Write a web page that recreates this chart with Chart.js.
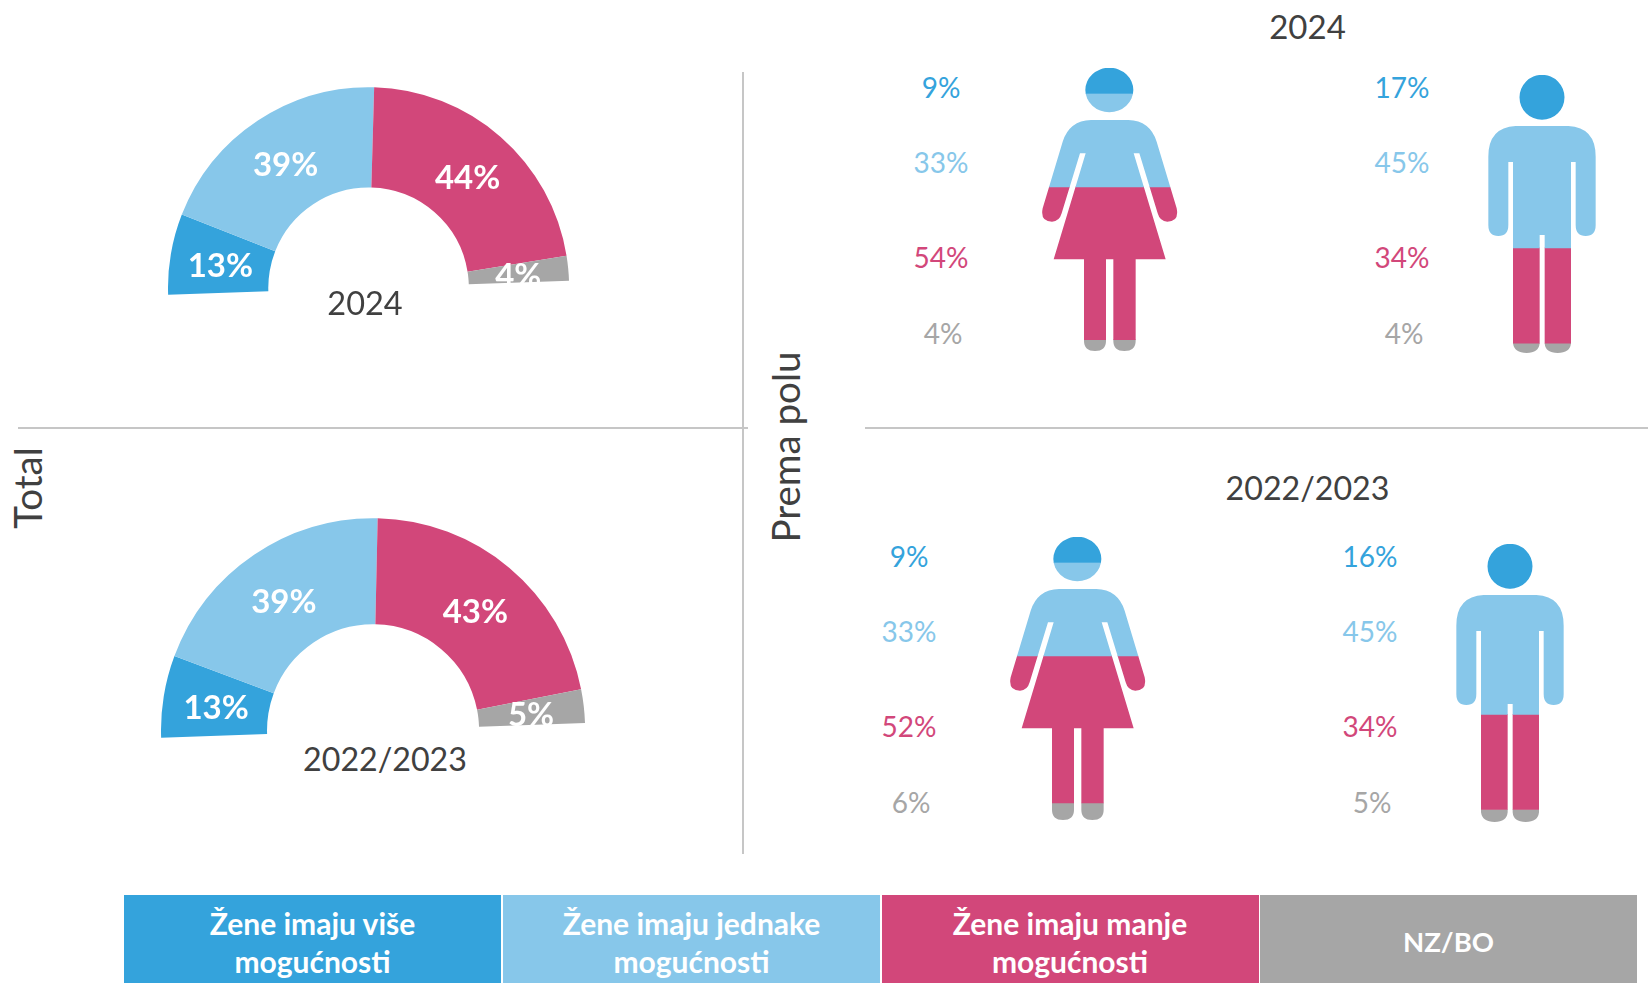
<!DOCTYPE html>
<html>
<head>
<meta charset="utf-8">
<script src="https://cdn.jsdelivr.net/npm/chart.js@4"></script>
<style>
html,body{margin:0;padding:0;width:1648px;height:983px;overflow:hidden;background:#fff;font-family:Lato,sans-serif;color:#404040}
canvas{position:absolute;display:block}
.t{position:absolute;transform:translate(-50%,-50%);white-space:nowrap;line-height:1}
.v{position:absolute;transform:translate(-50%,-50%) rotate(-90deg);white-space:nowrap;line-height:1}
.line{position:absolute;background:#c6c6c6}
.box{position:absolute;top:895px;height:94px;display:flex;align-items:center;justify-content:center;text-align:center;color:#fff;font-weight:700;font-size:30px;line-height:38px}
</style>
</head>
<body>
<script>
const categories = ['Žene imaju više mogućnosti', 'Žene imaju jednake mogućnosti', 'Žene imaju manje mogućnosti', 'NZ/BO'];
const colors = ['#34A3DC', '#87C7EA', '#D2477A', '#A6A6A6'];
const total2024 = [13, 39, 44, 4];
const total2022 = [12.5, 39.3, 43.1, 5.1];
const women2024 = [9, 33, 54, 4];
const men2024 = [17.1, 45.1, 34.3, 3.5];
const women2022 = [9, 33, 52, 6];
const men2022 = [16.1, 45.2, 34.2, 4.5];
const periodLabels = ['2024', '2022/2023'];
const sideTitles = ['Total', 'Prema polu'];

function addText(cls, text, x, y, size, color) {
  const d = document.createElement('div');
  d.className = cls;
  d.textContent = text;
  d.style.left = x + 'px';
  d.style.top = y + 'px';
  d.style.fontSize = size + 'px';
  if (color) d.style.color = color;
  document.body.appendChild(d);
}
function addLine(x, y, w, h) {
  const d = document.createElement('div');
  d.className = 'line';
  d.style.cssText = `left:${x}px;top:${y}px;width:${w}px;height:${h}px`;
  document.body.appendChild(d);
}
function addCanvas(x, y, w, h) {
  const c = document.createElement('canvas');
  c.width = w; c.height = h;
  c.style.cssText = `left:${x}px;top:${y}px;width:${w}px;height:${h}px`;
  document.body.appendChild(c);
  return c;
}

const gaugeLabels = {
  id: 'gaugeLabels',
  afterDatasetsDraw(chart) {
    const ctx = chart.ctx, meta = chart.getDatasetMeta(0);
    ctx.save();
    ctx.fillStyle = '#fff';
    ctx.font = '700 ' + chart.options.plugins.gaugeLabels.size + 'px Lato';
    ctx.textAlign = 'center';
    ctx.textBaseline = 'middle';
    meta.data.forEach((arc, i) => {
      const p = arc.tooltipPosition();
      ctx.fillText(Math.round(chart.data.datasets[0].data[i]) + '%', p.x, p.y + 3.5);
    });
    ctx.restore();
  }
};

function gauge(values, cx, cy, R, size) {
  const w = Math.round(R * 2), h = Math.ceil(w * 0.5175);
  const top = Math.round(cy - h / 2 - 0.4825 * R);
  const c = addCanvas(Math.round(cx - R), top, w, h);
  new Chart(c, {
    type: 'doughnut',
    data: { labels: categories, datasets: [{ data: values, backgroundColor: colors, borderWidth: 0 }] },
    options: {
      responsive: false, animation: false, rotation: -92, circumference: 180, cutout: '50%',
      layout: { padding: 0 },
      plugins: { legend: { display: false }, tooltip: { enabled: false }, gaugeLabels: { size } }
    },
    plugins: [gaugeLabels]
  });
}

function womanPath(x0, y0) {
  const p = new Path2D();
  const X = v => (v - x0) / 3, Y = v => (v - y0) / 3;
  const L = (a, b) => p.lineTo(X(a), Y(b));
  const Q = (a, b, c, d) => p.quadraticCurveTo(X(a), Y(b), X(c), Y(d));
  p.moveTo(X(629), Y(210));
  L(685, 210); Q(750, 212, 770, 275); L(830, 475); Q(838, 515, 802, 515); Q(780, 515, 773, 490);
  L(718, 310); L(701, 310); L(797, 628); L(707, 628); L(707, 873); Q(707, 903, 673, 903); Q(640, 903, 640, 873);
  L(640, 628); L(618, 628); L(618, 873); Q(618, 903, 585, 903); Q(552, 903, 552, 873); L(552, 628);
  L(461, 628); L(557, 310); L(540, 310); L(485, 490); Q(478, 515, 456, 515); Q(420, 515, 428, 475);
  L(488, 275); Q(508, 212, 573, 210);
  p.closePath();
  p.moveTo(X(700), Y(120));
  p.ellipse(X(628), Y(120), 24, 22.3, 0, 0, Math.PI * 2);
  return p;
}
function manPath(x0, y0) {
  const p = new Path2D();
  const X = v => (v - x0) / 3, Y = v => (v - y0) / 3;
  const L = (a, b) => p.lineTo(X(a), Y(b));
  const Q = (a, b, c, d) => p.quadraticCurveTo(X(a), Y(b), X(c), Y(d));
  p.moveTo(X(546), Y(228));
  L(625, 228); Q(707, 232, 707, 320); L(707, 525); Q(707, 558, 677, 558); Q(647, 558, 647, 525); L(647, 336); L(633, 336);
  L(633, 880); Q(630, 909, 593, 909); Q(556, 909, 554, 880); L(554, 555); L(539, 555); L(539, 880);
  Q(536, 909, 500, 909); Q(463, 909, 459, 880); L(459, 336); L(445, 336); L(445, 525);
  Q(445, 558, 415, 558); Q(385, 558, 385, 525); L(385, 320); Q(385, 232, 467, 228);
  p.closePath();
  p.moveTo(X(614), Y(142));
  p.arc(X(546), Y(142), 22.5, 0, Math.PI * 2);
  return p;
}
const silhouetteClip = {
  id: 'silhouetteClip',
  beforeDatasetsDraw(chart) {
    chart.ctx.save();
    chart.ctx.clip(chart.options.plugins.silhouetteClip.path);
  },
  afterDatasetsDraw(chart) { chart.ctx.restore(); }
};
function person(values, x, y, w, h, path) {
  const c = addCanvas(x, y, w, h);
  new Chart(c, {
    type: 'bar',
    data: {
      labels: [''],
      datasets: values.map((v, i) => ({ label: categories[i], data: [v], backgroundColor: colors[i], borderWidth: 0, barPercentage: 1, categoryPercentage: 1 }))
    },
    options: {
      responsive: false, animation: false, layout: { padding: 0 },
      scales: {
        x: { display: false, stacked: true },
        y: { display: false, stacked: true, reverse: true, min: 0, max: 100 }
      },
      plugins: { legend: { display: false }, tooltip: { enabled: false }, silhouetteClip: { path } }
    },
    plugins: [silhouetteClip]
  });
}
function personLabels(values, x, ys) {
  values.forEach((v, i) => addText('t', Math.round(v) + '%', x + (i === 3 ? 2 : 0), ys[i], 28, colors[i]));
}

// separators
addLine(18, 427, 730, 2);
addLine(865, 427, 783, 2);
addLine(742, 72, 2, 782);

// total gauges
gauge(total2024, 368.5, 288, 200.5, 33);
gauge(total2022, 373, 730, 212, 33);
addText('t', periodLabels[0], 365, 303, 32.5);
addText('t', periodLabels[1], 385, 759, 32.2);

// people
person(women2024, 1040, 68, 140, 283, womanPath(420, 54));
person(men2024, 1487, 75, 112, 278, manPath(381, 75));
person(women2022, 1008, 537, 140, 283, womanPath(420, 54));
person(men2022, 1455, 544, 112, 278, manPath(381, 75));
personLabels(women2024, 941, [86.5, 161.5, 256.5, 332.5]);
personLabels(men2024, 1402, [86.5, 161.5, 256.5, 332.5]);
personLabels(women2022, 909, [555.5, 630.5, 725.5, 801.5]);
personLabels(men2022, 1370, [555.5, 630.5, 725.5, 801.5]);

addText('t', periodLabels[0], 1307.5, 26, 33);
addText('t', periodLabels[1], 1307.5, 487.5, 32.2);
addText('v', sideTitles[0], 27, 488, 38.5);
addText('v', sideTitles[1], 785, 447, 38.5);

// legend boxes
const boxX = [124, 503, 881.5, 1260];
categories.forEach((name, i) => {
  const d = document.createElement('div');
  d.className = 'box';
  d.style.left = boxX[i] + 'px';
  d.style.width = '377px';
  d.style.background = colors[i];
  const parts = name.split(' ');
  if (parts.length > 1) {
    d.innerHTML = '<span>' + parts.slice(0, 3).join(' ') + '<br>' + parts[3] + '</span>';
  } else {
    d.textContent = name;
    d.style.fontSize = '27.5px';
  }
  document.body.appendChild(d);
});
</script>
</body>
</html>
